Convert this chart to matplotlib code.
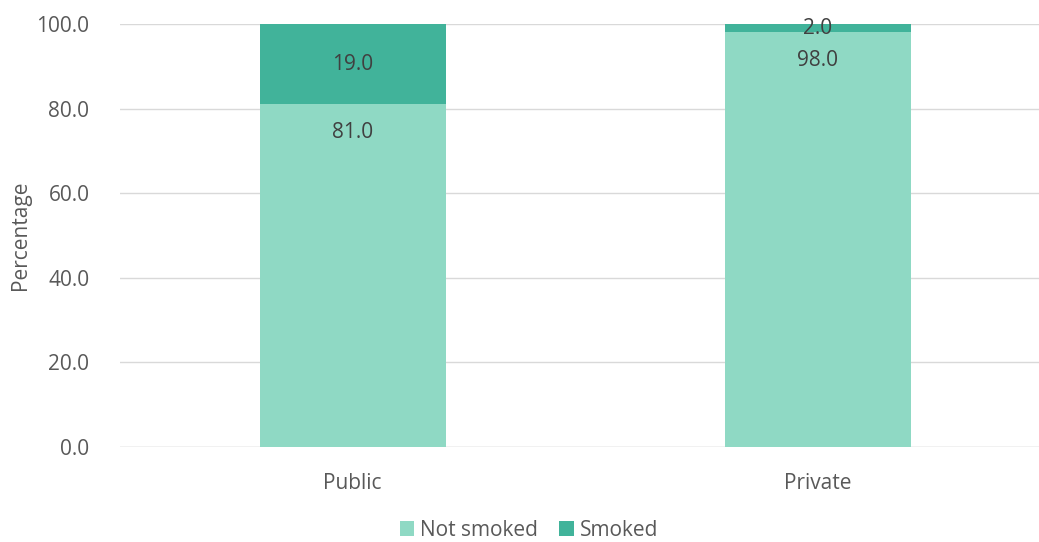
import numpy as np
import matplotlib
matplotlib.use("Agg")
import matplotlib.pyplot as plt

plt.rcParams['font.family'] = ['Open Sans', 'DejaVu Sans']

sectors = ['Public', 'Private']
not_smoked = [81.0, 98.0]
smoked = [19.0, 2.0]
yticks = [0, 20, 40, 60, 80, 100]

c_light = '#8FD9C4'
c_dark = '#41B39A'
grey = '#595959'
fs = 15

fig = plt.figure(figsize=(10.39, 5.42), dpi=100)
ax = fig.add_axes([120 / 1039, 95 / 542, 930 / 1039, 423 / 542])

x = np.arange(len(sectors))
b1 = ax.bar(x, not_smoked, width=0.4, color=c_light, label='Not smoked', zorder=2)
b2 = ax.bar(x, smoked, width=0.4, bottom=not_smoked, color=c_dark, label='Smoked', zorder=2)

# not-smoked labels sit just inside the top of the bar, smoked ones centred
for i, v in enumerate(not_smoked):
    ax.annotate(f'{v:.1f}', (x[i], v), xytext=(0, -20), textcoords='offset points',
                ha='center', va='center', fontsize=fs, color='#404040')
for i, v in enumerate(smoked):
    ax.text(x[i], not_smoked[i] + v / 2, f'{v:.1f}', ha='center', va='center',
            fontsize=fs, color='#404040', zorder=3)

ax.set_xlim(-0.5, 1.5)
ax.set_ylim(0, 100)
ax.set_yticks(yticks)
ax.set_yticklabels([f'{t:.1f}' for t in yticks])
ax.set_xticks(x)
ax.set_xticklabels(sectors)
ax.tick_params(axis='both', length=0, labelsize=fs, labelcolor=grey)
ax.tick_params(axis='x', pad=19)
ax.tick_params(axis='y', pad=22)
ax.grid(axis='y', color='#D9D9D9', linewidth=1, zorder=0)
ax.axhline(0, color='#D9D9D9', linewidth=1, zorder=1)
for s in ax.spines.values():
    s.set_visible(False)
ax.set_ylabel('Percentage', fontsize=fs, color=grey, labelpad=4)

fig.legend(handles=[b1, b2], loc='center', bbox_to_anchor=(529 / 1039, 12 / 542), ncol=2,
           frameon=False, fontsize=fs, labelcolor=grey, handlelength=0.7, handleheight=0.7,
           handletextpad=0.3, columnspacing=1.0)

fig.savefig('out.png', dpi=100)
